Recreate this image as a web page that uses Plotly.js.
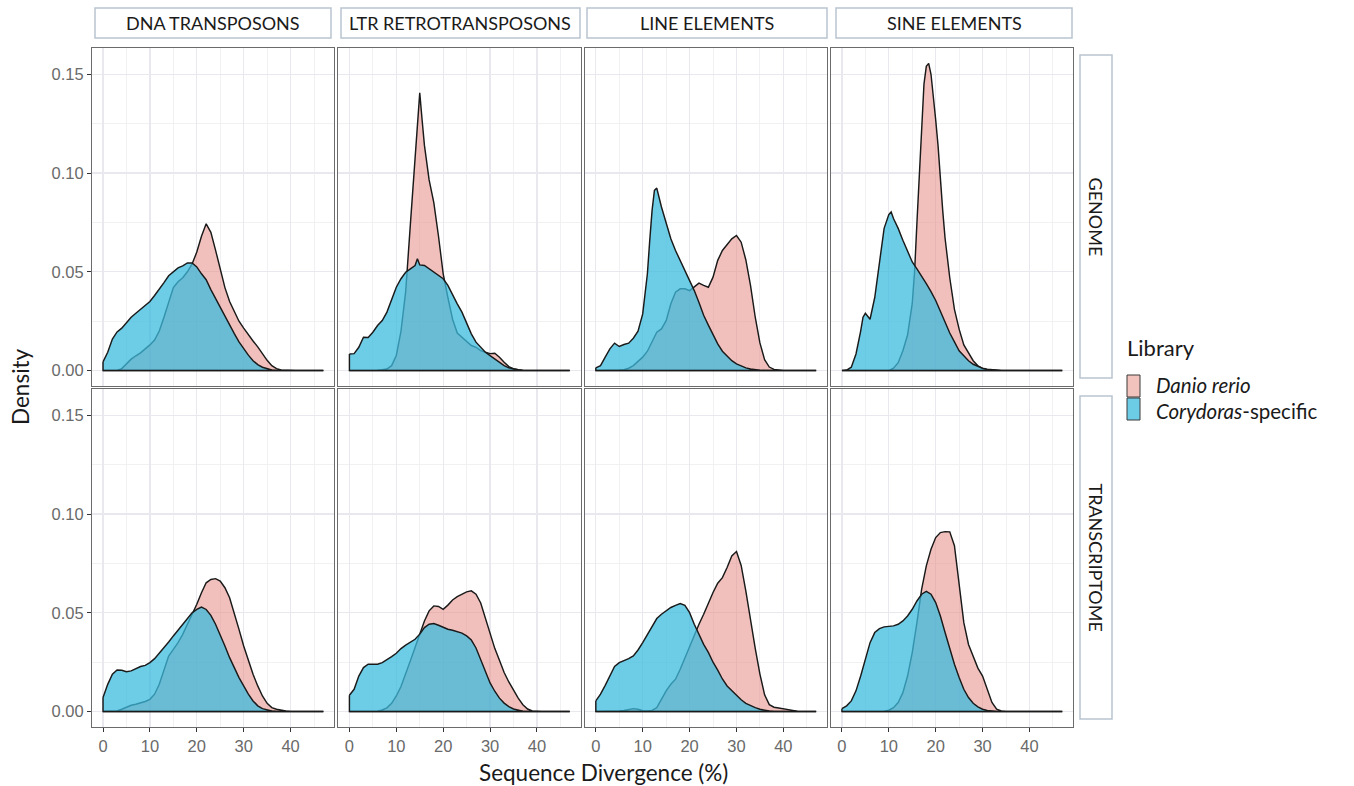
<!DOCTYPE html>
<html><head><meta charset="utf-8">
<script src="https://cdn.plot.ly/plotly-3.0.1.min.js"></script>
<style>html,body{margin:0;padding:0;background:#fff}#chart{width:1354px;height:786px}</style>
</head><body><div id="chart"></div>
<script>
// ---------------- data ----------------
const elementTypes = ['DNA TRANSPOSONS', 'LTR RETROTRANSPOSONS', 'LINE ELEMENTS', 'SINE ELEMENTS'];
const sources = ['GENOME', 'TRANSCRIPTOME'];
const libraries = ['Danio rerio', 'Corydoras-specific'];
const xTickVals = [0, 10, 20, 30, 40];
const yTickVals = [0.00, 0.05, 0.10, 0.15];

// common divergence grid (%)
const divergence = [0,1,2,3,4,5,6,7,8,9,10,11,12,13,14,15,16,17,18,19,20,21,22,23,24,25,26,27,28,29,30,31,32,33,34,35,36,37,38,39,40,41,42,43,44,45,46,47];

// GENOME
const genomeDnaDanio = [0,0,0,0.0001,0.001,0.0035,0.0058,0.0075,0.009,0.011, 0.013,0.0155,0.02,0.027,0.035,0.042,0.045,0.047,0.05,0.054, 0.06,0.068,0.0743,0.07,0.061,0.051,0.042,0.035,0.03,0.025, 0.0215,0.018,0.015,0.012,0.0085,0.0052,0.0025,0.001,0.0003,0.0001, 0,0,0,0,0,0,0,0];
const genomeDnaCory = [0.0044,0.0093,0.016,0.0196,0.0215,0.0245,0.027,0.029,0.031,0.033, 0.035,0.038,0.041,0.0445,0.048,0.05,0.052,0.053,0.0545,0.0545, 0.0525,0.049,0.046,0.041,0.0365,0.032,0.027,0.0228,0.0187,0.0145, 0.011,0.0078,0.005,0.003,0.0017,0.0008,0.0003,0.0001,0,0, 0,0,0,0,0,0,0,0];

const genomeLtrDanioX = [0,1,2,3,4,5,6,7,8,9,10,11,12,13,14,14.5,15,15.5,16,17,18,19,20,21,22,23,24,25,26,27,28,29,30,31,32,33,34,35,36,37,38,39,40,41,42,43,44,45,46,47];
const genomeLtrDanio = [0,0,0,0,0,0.0001,0.0002,0.0004,0.0008,0.0025,0.0076,0.02,0.04,0.074,0.107,0.124,0.1406,0.127,0.114,0.0965,0.085,0.068,0.049,0.037,0.026,0.019,0.0169,0.0144,0.0127,0.0118,0.0101,0.0093,0.0086,0.0088,0.0068,0.0042,0.002,0.0008,0.0003,0.0001,0,0,0,0,0,0,0,0,0,0];
const genomeLtrCoryX = [0,1,2,3,4,5,6,7,8,9,10,11,12,13,14,14.5,15,16,17,18,19,20,21,22,23,24,25,26,27,28,29,30,31,32,33,34,35,36,37,38,39,40,41,42,43,44,45,46,47];
const genomeLtrCory = [0.0084,0.0086,0.0118,0.0169,0.0168,0.0194,0.0228,0.0253,0.0296,0.0363,0.0422,0.0465,0.0498,0.0515,0.0532,0.0566,0.0535,0.0532,0.0515,0.0498,0.048,0.0465,0.0431,0.038,0.0338,0.0296,0.0237,0.0186,0.0144,0.0118,0.0093,0.0076,0.0059,0.0042,0.0025,0.0014,0.0008,0.0004,0.0002,0.0001,0,0,0,0,0,0,0,0,0];

const genomeLineDanio = [0,0,0,0,0.0001,0.0003,0.0005,0.0012,0.0025,0.0047, 0.0068,0.0098,0.0144,0.0194,0.0211,0.0253,0.0338,0.0397,0.0414,0.0414, 0.0405,0.0422,0.0443,0.0431,0.0422,0.0473,0.0558,0.0608,0.0639,0.0667, 0.0684,0.065,0.056,0.043,0.027,0.014,0.0055,0.0018,0.0006,0.0002, 0.0001,0,0,0,0,0,0,0];
const genomeLineCoryX = [0,1,2,3,4,5,6,7,8,9,10,11,11.5,12,12.5,13,14,15,16,17,18,19,20,21,22,23,24,25,26,27,28,29,30,31,32,33,34,35,36,37,38,39,40,41,42,43,44,45,46,47];
const genomeLineCory = [0.0014,0.0025,0.0068,0.011,0.0139,0.0122,0.0132,0.0139,0.0164,0.02,0.0287,0.049,0.0659,0.0811,0.0912,0.0924,0.0828,0.0743,0.0667,0.0608,0.0558,0.0507,0.0456,0.0405,0.0345,0.028,0.023,0.018,0.0135,0.0098,0.0072,0.005,0.0034,0.0022,0.0014,0.0008,0.0004,0.0002,0.0001,0,0,0,0,0,0,0,0,0,0,0];

const genomeSineDanioX = [0,1,2,3,4,5,6,7,8,9,10,11,12,13,14,15,15.5,16,16.5,17,17.5,18,18.5,19,19.5,20,20.5,21,21.5,22,23,24,25,26,27,28,29,30,31,32,33,34,35,36,37,38,39,40,41,42,43,44,45,46,47];
const genomeSineDanio = [0,0,0,0,0,0,0,0,0,0,0,0.0012,0.004,0.0101,0.018,0.034,0.05,0.075,0.0997,0.125,0.145,0.154,0.1555,0.15,0.14,0.127,0.114,0.095,0.081,0.067,0.047,0.031,0.021,0.013,0.0087,0.005,0.0024,0.001,0.0004,0.0002,0.0001,0,0,0,0,0,0,0,0,0,0,0,0,0,0];
const genomeSineCoryX = [0,1,2,3,4,4.5,5,5.5,6,7,8,9,10,10.5,11,12,13,14,15,16,17,18,19,20,21,22,23,24,25,26,27,28,29,30,31,32,33,34,35,36,37,38,39,40,41,42,43,44,45,46,47];
const genomeSineCory = [0,0.0003,0.0017,0.0084,0.02,0.027,0.029,0.0274,0.026,0.037,0.055,0.072,0.079,0.0803,0.077,0.072,0.066,0.06,0.055,0.0515,0.048,0.044,0.04,0.0355,0.03,0.024,0.019,0.0145,0.01,0.0075,0.005,0.0032,0.002,0.0012,0.0007,0.0004,0.0002,0.0001,0,0,0,0,0,0,0,0,0,0,0,0,0];

// TRANSCRIPTOME
const transDnaDanio = [0,0,0,0.0003,0.0012,0.0024,0.0032,0.0037,0.0044,0.0051, 0.0062,0.0088,0.0138,0.0214,0.0281,0.0315,0.0349,0.0391,0.0442,0.0484, 0.0543,0.0602,0.0652,0.0669,0.0673,0.0661,0.0627,0.0576,0.05,0.0416, 0.0332,0.0256,0.0189,0.013,0.0079,0.0042,0.002,0.0012,0.0007,0.0003, 0.0001,0,0,0,0,0,0,0];
const transDnaCory = [0.0071,0.0138,0.0189,0.0211,0.0209,0.0202,0.0206,0.0217,0.0228,0.0234, 0.0248,0.0268,0.0295,0.0324,0.0352,0.0383,0.0413,0.0442,0.0472,0.05, 0.0517,0.0529,0.0517,0.0487,0.0442,0.0391,0.0332,0.0273,0.0222,0.0172, 0.013,0.0088,0.0054,0.0029,0.0015,0.0008,0.0003,0.0001,0,0, 0,0,0,0,0,0,0,0];
const transLtrDanio = [0,0,0,0,0,0.0001,0.0002,0.0008,0.0019,0.0042, 0.0079,0.0127,0.0189,0.0257,0.0324,0.0392,0.0459,0.051,0.0535,0.0532, 0.0518,0.0539,0.0565,0.0582,0.0594,0.0606,0.0611,0.0594,0.055,0.0475, 0.039,0.032,0.026,0.0198,0.015,0.0105,0.0068,0.0035,0.0013,0.0003, 0,0,0,0,0,0,0,0];
const transLtrCory = [0.0083,0.0113,0.018,0.0223,0.024,0.024,0.024,0.0248,0.0262,0.0278, 0.0295,0.0319,0.0336,0.0353,0.0366,0.0392,0.0425,0.0442,0.0446,0.0437, 0.0425,0.0417,0.0412,0.0403,0.0397,0.0383,0.0362,0.0322,0.0262,0.0197, 0.0145,0.0103,0.0068,0.0043,0.0025,0.0013,0.0006,0.0002,0.0001,0, 0,0,0,0,0,0,0,0];
const transLineDanio = [0,0,0,0,0,0.0003,0.0006,0.0012,0.0015,0.0012, 0.0005,0.0003,0.0006,0.002,0.0062,0.0105,0.0138,0.0164,0.0214,0.0273, 0.0332,0.0392,0.0442,0.0493,0.0552,0.0603,0.065,0.0678,0.0729,0.0788, 0.081,0.074,0.061,0.046,0.032,0.019,0.0085,0.0035,0.0022,0.0018, 0.0015,0.0012,0.0006,0.0002,0,0,0,0];
const transLineCory = [0.0054,0.0088,0.0133,0.0181,0.0228,0.0248,0.0257,0.0268,0.0282,0.0312, 0.0349,0.0392,0.0434,0.0471,0.0493,0.051,0.0527,0.0538,0.0547,0.0538, 0.0501,0.0442,0.039,0.034,0.03,0.025,0.021,0.0165,0.013,0.0105, 0.008,0.006,0.0042,0.003,0.002,0.0012,0.0006,0.0003,0.0001,0, 0,0,0,0,0,0,0,0];
const transSineDanio = [0,0,0,0,0,0,0,0,0,0.0002, 0.0007,0.002,0.0046,0.0096,0.018,0.0299,0.0451,0.0619,0.0738,0.0822, 0.0881,0.0906,0.0911,0.091,0.084,0.064,0.045,0.034,0.0275,0.022, 0.018,0.0113,0.0046,0.0012,0.0003,0,0,0,0,0, 0,0,0,0,0,0,0,0];
const transSineCory = [0.0015,0.0029,0.0054,0.0105,0.018,0.0265,0.0349,0.04,0.042,0.0429, 0.0432,0.0434,0.0442,0.0459,0.0484,0.0518,0.056,0.0594,0.0609,0.0594, 0.0552,0.0484,0.04,0.0316,0.024,0.0172,0.0113,0.0071,0.0042,0.0024, 0.0012,0.0006,0.0002,0,0,0,0,0,0,0, 0,0,0,0,0,0,0,0];

// ---------------- panels ----------------
const panels = [
  {row:0, col:0, danio:[divergence, genomeDnaDanio], cory:[divergence, genomeDnaCory]},
  {row:0, col:1, danio:[genomeLtrDanioX, genomeLtrDanio], cory:[genomeLtrCoryX, genomeLtrCory]},
  {row:0, col:2, danio:[divergence, genomeLineDanio], cory:[genomeLineCoryX, genomeLineCory]},
  {row:0, col:3, danio:[genomeSineDanioX, genomeSineDanio], cory:[genomeSineCoryX, genomeSineCory]},
  {row:1, col:0, danio:[divergence, transDnaDanio], cory:[divergence, transDnaCory]},
  {row:1, col:1, danio:[divergence, transLtrDanio], cory:[divergence, transLtrCory]},
  {row:1, col:2, danio:[divergence, transLineDanio], cory:[divergence, transLineCory]},
  {row:1, col:3, danio:[divergence, transSineDanio], cory:[divergence, transSineCory]}
];

// ---------------- layout geometry ----------------
const W = 1354, H = 786;
const colLeft = [92, 338.4, 584.8, 830.9];
const colWidth = 242.4;
const rowTop = [48, 389];
const rowBottom = [386, 727];
const px = x => x / W;
const py = y => 1 - y / H;

const danioFill = 'rgba(229,129,121,0.5)';
const coryFill = 'rgba(60,187,222,0.75)';
const outline = '#1a1a1a';

function closed(xs, ys) {
  const n = xs.length;
  return {
    x: xs.concat([xs[n - 1], xs[0], xs[0]]),
    y: ys.concat([0, 0, ys[0]])
  };
}

const traces = [];
const layout = {
  width: W, height: H, autosize: false,
  margin: {l: 0, r: 0, t: 0, b: 0, pad: 0},
  paper_bgcolor: '#fff', plot_bgcolor: '#fff',
  showlegend: false,
  shapes: [], annotations: []
};

panels.forEach((p, i) => {
  const k = i + 1;
  const xa = k === 1 ? 'x' : 'x' + k;
  const ya = k === 1 ? 'y' : 'y' + k;
  [[p.danio, danioFill, libraries[0]], [p.cory, coryFill, libraries[1]]].forEach(([d, fill, name]) => {
    const c = closed(d[0], d[1]);
    traces.push({
      type: 'scatter', mode: 'lines', x: c.x, y: c.y, xaxis: xa, yaxis: ya,
      fill: 'toself', fillcolor: fill, name: name,
      line: {color: outline, width: 1.45, shape: 'linear'},
      hoverinfo: 'skip', showlegend: false
    });
  });
  const bottom = p.row === 1, left = p.col === 0;
  layout[k === 1 ? 'xaxis' : 'xaxis' + k] = {
    domain: [px(colLeft[p.col]), px(colLeft[p.col] + colWidth)],
    anchor: ya, range: [-2.35, 49.35],
    tickmode: 'array', tickvals: xTickVals, ticktext: xTickVals.map(String),
    showgrid: true, gridcolor: '#E8E8EE', gridwidth: 1.3,
    minor: {dtick: 5, tick0: 0, showgrid: true, gridcolor: '#EFEFF3', gridwidth: 0.9},
    zeroline: false, showline: true, mirror: true, linecolor: '#6b6b6b', linewidth: 1,
    ticks: bottom ? 'outside' : '', ticklen: 4, tickcolor: '#333', tickwidth: 1,
    showticklabels: bottom,
    tickfont: {family: 'Liberation Sans, Arial, sans-serif', size: 16.5, color: '#6a6a6a'},
    fixedrange: true
  };
  layout[k === 1 ? 'yaxis' : 'yaxis' + k] = {
    domain: [py(rowBottom[p.row]), py(rowTop[p.row])],
    anchor: xa, range: [-0.0078, 0.1633],
    tickmode: 'array', tickvals: yTickVals, ticktext: yTickVals.map(v => v.toFixed(2)),
    showgrid: true, gridcolor: '#E8E8EE', gridwidth: 1.3,
    minor: {dtick: 0.025, tick0: 0, showgrid: true, gridcolor: '#EFEFF3', gridwidth: 0.9},
    zeroline: false, showline: true, mirror: true, linecolor: '#6b6b6b', linewidth: 1,
    ticks: left ? 'outside' : '', ticklen: 4, tickcolor: '#333', tickwidth: 1,
    showticklabels: left,
    tickfont: {family: 'Liberation Sans, Arial, sans-serif', size: 16.5, color: '#6a6a6a'},
    fixedrange: true
  };
});

// strips (top)
const stripFont = {family: 'Lato, "Open Sans", sans-serif', size: 18, color: '#1a1a1a'};
const stripBorder = '#B9C3CF';
const topStrips = [[95, 331], [341, 580], [587, 827], [836, 1072]];
topStrips.forEach((s, c) => {
  layout.shapes.push({type: 'rect', xref: 'paper', yref: 'paper', x0: px(s[0]), x1: px(s[1]), y0: py(38), y1: py(8),
    line: {color: stripBorder, width: 1.5}, fillcolor: '#fff'});
  layout.annotations.push({xref: 'paper', yref: 'paper', x: px((s[0] + s[1]) / 2), y: py(23),
    text: elementTypes[c], showarrow: false, font: stripFont, xanchor: 'center', yanchor: 'middle'});
});
// strips (right)
const rightStrips = [[55, 378], [396, 719]];
rightStrips.forEach((s, r) => {
  layout.shapes.push({type: 'rect', xref: 'paper', yref: 'paper', x0: px(1080), x1: px(1112), y0: py(s[1]), y1: py(s[0]),
    line: {color: stripBorder, width: 1.5}, fillcolor: '#fff'});
  layout.annotations.push({xref: 'paper', yref: 'paper', x: px(1096), y: py((s[0] + s[1]) / 2),
    text: sources[r], showarrow: false, font: stripFont, textangle: 90, xanchor: 'center', yanchor: 'middle'});
});

// axis titles
const titleFont = {family: 'Lato, "Open Sans", sans-serif', size: 22.5, color: '#1a1a1a'};
layout.annotations.push({xref: 'paper', yref: 'paper', x: px(603), y: py(772), text: 'Sequence Divergence (%)',
  showarrow: false, font: titleFont, xanchor: 'center', yanchor: 'middle'});
layout.annotations.push({xref: 'paper', yref: 'paper', x: px(20), y: py(387), text: 'Density',
  showarrow: false, font: titleFont, textangle: -90, xanchor: 'center', yanchor: 'middle'});

// legend (drawn)
const legFont = {family: 'Lato, "Open Sans", sans-serif', size: 22, color: '#1a1a1a'};
const legItemFont = {family: 'Lato, "Open Sans", sans-serif', size: 20.5, color: '#1a1a1a'};
layout.annotations.push({xref: 'paper', yref: 'paper', x: px(1125), y: py(347), text: 'Library',
  showarrow: false, font: legFont, xanchor: 'left', yanchor: 'middle'});
const legItems = [
  {y0: 375, y1: 397, fill: '#F2C2BD', text: '<i>Danio rerio</i>', ty: 385},
  {y0: 398, y1: 420, fill: '#6CCCE6', text: '<i>Corydoras</i>-specific', ty: 411}
];
legItems.forEach(it => {
  layout.shapes.push({type: 'rect', xref: 'paper', yref: 'paper', x0: px(1127), x1: px(1140), y0: py(it.y1), y1: py(it.y0),
    line: {color: '#3a3a3a', width: 1}, fillcolor: it.fill});
  layout.annotations.push({xref: 'paper', yref: 'paper', x: px(1154), y: py(it.ty), text: it.text,
    showarrow: false, font: legItemFont, xanchor: 'left', yanchor: 'middle'});
});

Plotly.newPlot('chart', traces, layout, {displayModeBar: false, staticPlot: true});
</script>
</body></html>
